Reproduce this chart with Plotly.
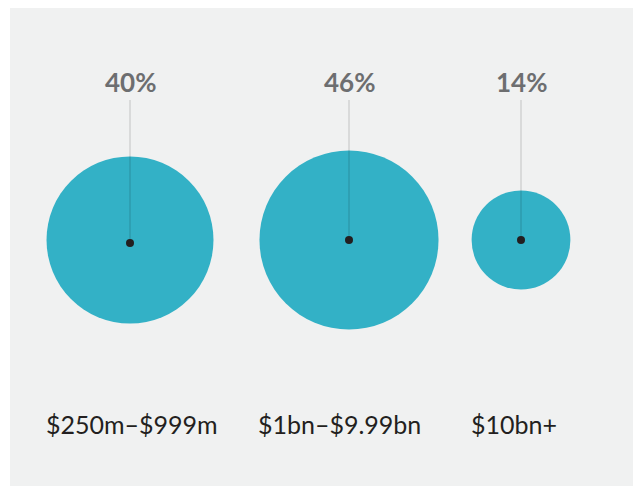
import plotly.graph_objects as go

# Share of companies by revenue band
bands = ["$250m–$999m", "$1bn–$9.99bn", "$10bn+"]
shares = [40, 46, 14]
pct_labels = ["40%", "46%", "14%"]

# Layout constants (pixel-like axis units)
W, H = 633, 486
centers_x = [130, 349, 521]
center_y = 240
dot_y = [243, 240, 240]
pct_y = 82
leader_top = 100
band_y = 424
band_nudge = -3  # compensate for the "$" glyph's left bearing
px_per_sqrt = 13.2  # bubble radius per sqrt(percentage point)

TEAL = "#33b1c6"
DARK = "#231f20"
GREY_TXT = "#6d6e70"
PANEL = "#f0f1f1"

fig = go.Figure()

# Bubbles: area proportional to share
diam = [2 * px_per_sqrt * v ** 0.5 for v in shares]
fig.add_trace(go.Scatter(
    x=centers_x, y=[center_y] * 3, mode="markers",
    marker=dict(size=diam, sizemode="diameter", color=TEAL,
                opacity=1, line=dict(width=0)),
    hoverinfo="skip", showlegend=False,
))

# Leader lines from label down to bubble centre
for cx, dy in zip(centers_x, dot_y):
    fig.add_trace(go.Scatter(
        x=[cx, cx], y=[leader_top, dy], mode="lines",
        line=dict(color="rgba(0,0,0,0.13)", width=1.5),
        hoverinfo="skip", showlegend=False,
    ))

# Centre dots
fig.add_trace(go.Scatter(
    x=centers_x, y=dot_y, mode="markers",
    marker=dict(size=8, color=DARK, opacity=1),
    hoverinfo="skip", showlegend=False,
))

# Percentage labels
for cx, lab in zip(centers_x, pct_labels):
    fig.add_annotation(
        x=cx, y=pct_y, text=f"<b>{lab}</b>", showarrow=False,
        xanchor="center", yanchor="middle",
        font=dict(family="Lato", size=26, color=GREY_TXT),
    )

# Band labels, left-aligned with each bubble's edge
for cx, d, lab in zip(centers_x, diam, bands):
    fig.add_annotation(
        x=cx - d / 2 + band_nudge, y=band_y, text=lab, showarrow=False,
        xanchor="left", yanchor="middle",
        font=dict(family="Lato", size=25, color=DARK),
    )

fig.update_xaxes(range=[10, W], visible=False, fixedrange=True)
fig.update_yaxes(range=[H, 8], visible=False, fixedrange=True)
fig.update_layout(
    width=W, height=H,
    margin=dict(l=10, r=0, t=8, b=0),
    paper_bgcolor="white",
    plot_bgcolor=PANEL,
)

fig.write_html("out.html", config={"displayModeBar": False})
